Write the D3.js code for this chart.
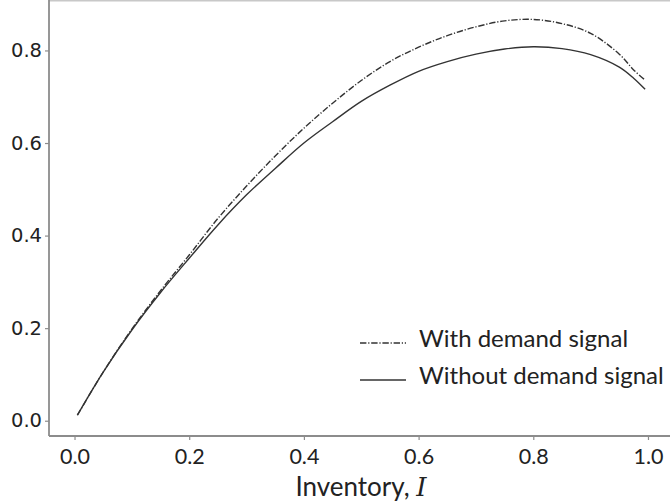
<!DOCTYPE html>
<html>
<head>
<meta charset="utf-8">
<script src="https://cdn.jsdelivr.net/npm/d3@7"></script>
<style>
  body { margin: 0; background: #fff; }
  svg { display: block; }
</style>
</head>
<body>
<svg id="svg" width="670" height="503"></svg>
<script>
// inventory levels sampled along the x axis
const inventory = [0.005, 0.05, 0.1, 0.15, 0.2, 0.25, 0.3, 0.35, 0.4, 0.45, 0.5,
    0.55, 0.6, 0.65, 0.7, 0.75, 0.8, 0.85, 0.9, 0.95, 0.975, 0.995];
const withSignal = [0.012, 0.105, 0.198, 0.281, 0.358, 0.437, 0.507, 0.572, 0.632, 0.686, 0.735,
    0.776, 0.807, 0.832, 0.851, 0.864, 0.867, 0.858, 0.837, 0.792, 0.758, 0.736];
const withoutSignal = [0.012, 0.105, 0.196, 0.277, 0.351, 0.423, 0.488, 0.545, 0.600, 0.646, 0.690,
    0.725, 0.755, 0.776, 0.792, 0.803, 0.808, 0.804, 0.791, 0.764, 0.740, 0.716];
const xTicks = [0.0, 0.2, 0.4, 0.6, 0.8, 1.0];
const yTicks = [0.0, 0.2, 0.4, 0.6, 0.8];
const legendLabels = ["With demand signal", "Without demand signal"];

const svg = d3.select("#svg");
const axisColor = "#8c8c8c";
const lineColor = "#333";

const x = d3.scaleLinear([-0.0445, 1.0445], [49, 673.5]);
const y = d3.scaleLinear([-0.033, 0.909], [436, 0]);

// frame (right side runs off the canvas)
svg.append("line").attr("x1", 49).attr("x2", 670).attr("y1", 0.75).attr("y2", 0.75)
    .attr("stroke", "#c8c8c8").attr("stroke-width", 1.5);

const xAxis = svg.append("g")
    .attr("transform", "translate(0,436)")
    .call(d3.axisBottom(x).tickValues(xTicks).tickFormat(d3.format(".1f")).tickSizeOuter(0).tickSize(4).tickPadding(9));
xAxis.select(".domain").remove();
xAxis.append("line").attr("x1", 49).attr("x2", 670).attr("stroke", axisColor).attr("stroke-width", 1.8);
xAxis.selectAll(".tick line").attr("stroke", axisColor).attr("stroke-width", 1.2);
xAxis.selectAll(".tick text")
    .attr("fill", "#222").attr("font-family", "Lato, sans-serif").attr("font-size", 21.5);

const yAxis = svg.append("g")
    .attr("transform", "translate(49,0)")
    .call(d3.axisLeft(y).tickValues(yTicks).tickFormat(d3.format(".1f")).tickSizeOuter(0).tickSize(4).tickPadding(3));
yAxis.select(".domain").remove();
yAxis.append("line").attr("y1", 0).attr("y2", 436).attr("stroke", axisColor).attr("stroke-width", 1.8);
yAxis.selectAll(".tick line").attr("stroke", axisColor).attr("stroke-width", 1.2);
yAxis.selectAll(".tick text")
    .attr("fill", "#222").attr("font-family", "DejaVu Sans, sans-serif").attr("font-size", 19.5);

// x label
const xl = svg.append("text")
    .attr("x", 361).attr("y", 496)
    .attr("text-anchor", "middle")
    .attr("font-family", "Lato, sans-serif").attr("font-size", 26).attr("fill", "#222");
xl.append("tspan").text("Inventory, ");
xl.append("tspan").attr("font-family", "DejaVu Serif, serif").attr("font-style", "italic").text("I");

// curves
const series = [
    {name: legendLabels[0], values: withSignal, dash: "6.4,1.8,1.2,1.8"},
    {name: legendLabels[1], values: withoutSignal, dash: null}
];

const line = d3.line()
    .x((d, i) => x(inventory[i]))
    .y(d => y(d))
    .curve(d3.curveCatmullRom.alpha(0.5));

svg.append("g")
    .selectAll("path")
    .data(series)
    .join("path")
    .attr("fill", "none")
    .attr("stroke", lineColor)
    .attr("stroke-width", 1.4)
    .attr("stroke-dasharray", d => d.dash)
    .attr("d", d => line(d.values));

// legend
const legend = svg.append("g").attr("transform", "translate(360,343)");
const item = legend.selectAll("g")
    .data(series)
    .join("g")
    .attr("transform", (d, i) => `translate(0, ${i * 37})`);

item.append("line")
    .attr("x1", 0).attr("x2", 46)
    .attr("stroke", lineColor).attr("stroke-width", 1.4)
    .attr("stroke-dasharray", d => d.dash);

item.append("text")
    .attr("x", 59).attr("y", 4)
    .attr("font-family", "Lato, sans-serif").attr("font-size", 24).attr("fill", "#222")
    .text(d => d.name);
</script>
</body>
</html>
